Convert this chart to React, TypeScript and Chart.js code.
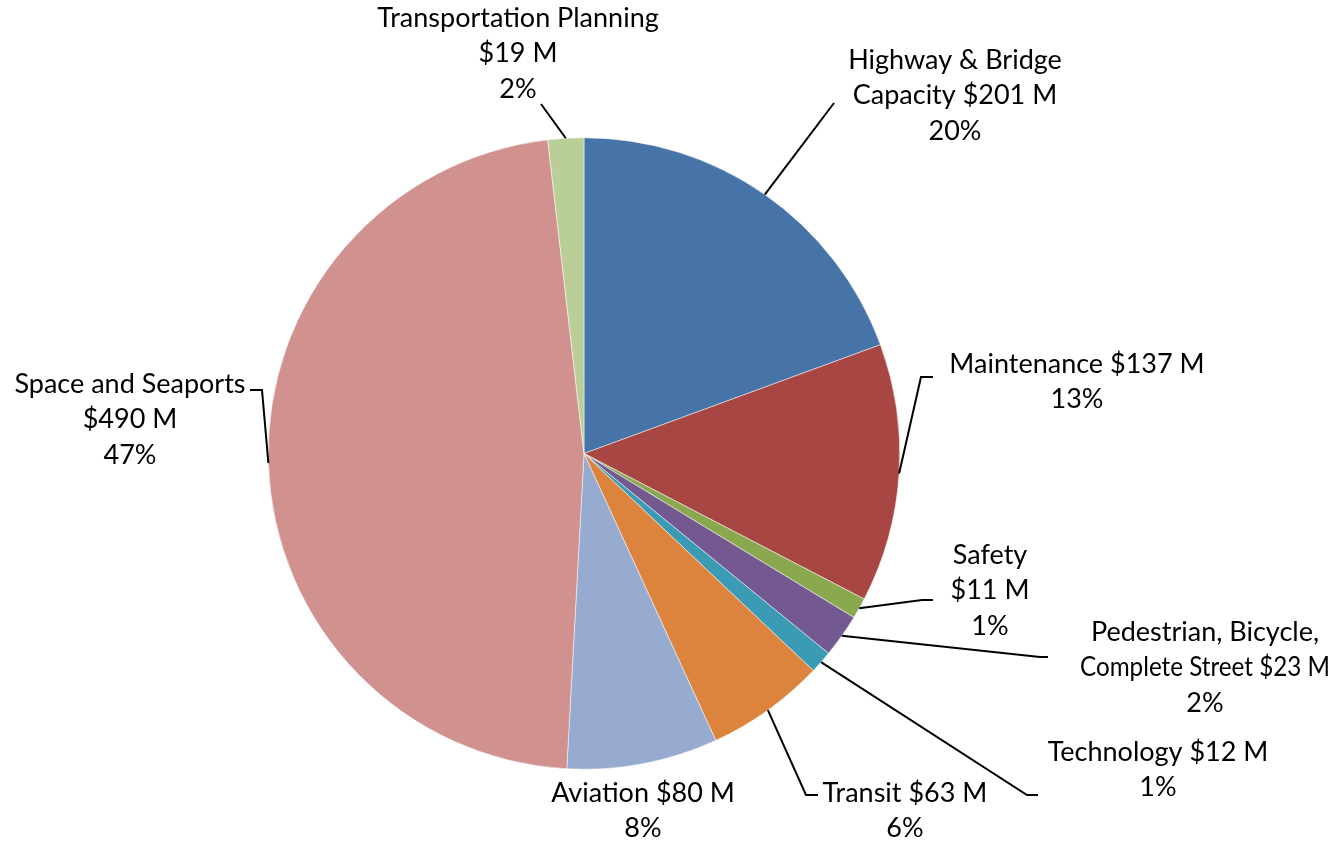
import React, { useEffect, useRef } from "react";
import { Chart, registerables } from "chart.js";

Chart.register(...registerables);

const categories = [
  "Highway & Bridge Capacity",
  "Maintenance",
  "Safety",
  "Pedestrian, Bicycle, Complete Street",
  "Technology",
  "Transit",
  "Aviation",
  "Space and Seaports",
  "Transportation Planning",
];
const values = [201, 137, 11, 23, 12, 63, 80, 490, 19];
const colors = [
  "#4673A8",
  "#A84644",
  "#8AA84E",
  "#73598F",
  "#3C9BB4",
  "#DC833D",
  "#97AACF",
  "#D0918F",
  "#BACF97",
];
const labelLines = [
  ["Highway & Bridge", "Capacity $201 M", "20%"],
  ["Maintenance $137 M", "13%"],
  ["Safety", "$11 M", "1%"],
  ["Pedestrian, Bicycle,", "Complete Street $23 M", "2%"],
  ["Technology $12 M", "1%"],
  ["Transit $63 M", "6%"],
  ["Aviation $80 M", "8%"],
  ["Space and Seaports", "$490 M", "47%"],
  ["Transportation Planning", "$19 M", "2%"],
];
// label text center x and first-line center y
const labelAnchors = [
  [955, 60],
  [1077, 364],
  [990, 555],
  [1205, 632],
  [1158, 752],
  [905, 793],
  [643, 793],
  [130, 384],
  [518, 18],
];
const labelMaxWidth = [300, 300, 300, 250, 300, 300, 300, 300, 300];
// leader line points after the slice edge point (null = no leader)
const leaderPoints: (number[][] | null)[] = [
  [[834, 103]],
  [[921, 377], [933, 377]],
  [[922, 600], [933, 600]],
  [[1040, 657], [1048, 657]],
  [[1027, 795], [1038, 795]],
  [[806, 795], [818, 795]],
  null,
  [[262, 390], [250, 390]],
  [[541, 104]],
];

const labelPlugin = {
  id: "pieLabels",
  afterDatasetsDraw(chart: any) {
    const ctx = chart.ctx;
    const meta = chart.getDatasetMeta(0);
    ctx.save();
    ctx.strokeStyle = "#000";
    ctx.lineWidth = 2;
    meta.data.forEach((arc: any, i: number) => {
      const pts = leaderPoints[i];
      if (!pts) return;
      const mid = (arc.startAngle + arc.endAngle) / 2;
      const sx = arc.x + arc.outerRadius * Math.cos(mid);
      const sy = arc.y + arc.outerRadius * Math.sin(mid);
      ctx.beginPath();
      ctx.moveTo(sx, sy);
      pts.forEach((p) => ctx.lineTo(p[0], p[1]));
      ctx.stroke();
    });
    ctx.fillStyle = "#000";
    ctx.font = "27px Lato";
    ctx.textAlign = "center";
    ctx.textBaseline = "middle";
    labelLines.forEach((lines, i) => {
      const [cx, cy] = labelAnchors[i];
      lines.forEach((t, j) => ctx.fillText(t, cx, cy + j * 35.5, labelMaxWidth[i]));
    });
    ctx.restore();
  },
};

export default function App() {
  const ref = useRef<HTMLCanvasElement>(null);
  useEffect(() => {
    if (!ref.current) return;
    const chart = new Chart(ref.current, {
      type: "pie",
      data: {
        labels: categories,
        datasets: [
          {
            data: values,
            backgroundColor: colors,
            borderColor: "#ffffff",
            borderWidth: 0.5,
          },
        ],
      },
      options: {
        responsive: false,
        animation: false,
        layout: { padding: { left: 268, right: 438, top: 137, bottom: 74 } },
        plugins: {
          legend: { display: false },
          tooltip: { enabled: false },
          title: { display: false },
        },
      },
      plugins: [labelPlugin],
    });
    return () => chart.destroy();
  }, []);
  return (
    <div style={{ position: "fixed", left: 0, top: 0, width: 1338, height: 844, background: "#fff" }}>
      <canvas ref={ref} width={1338} height={844} />
    </div>
  );
}
